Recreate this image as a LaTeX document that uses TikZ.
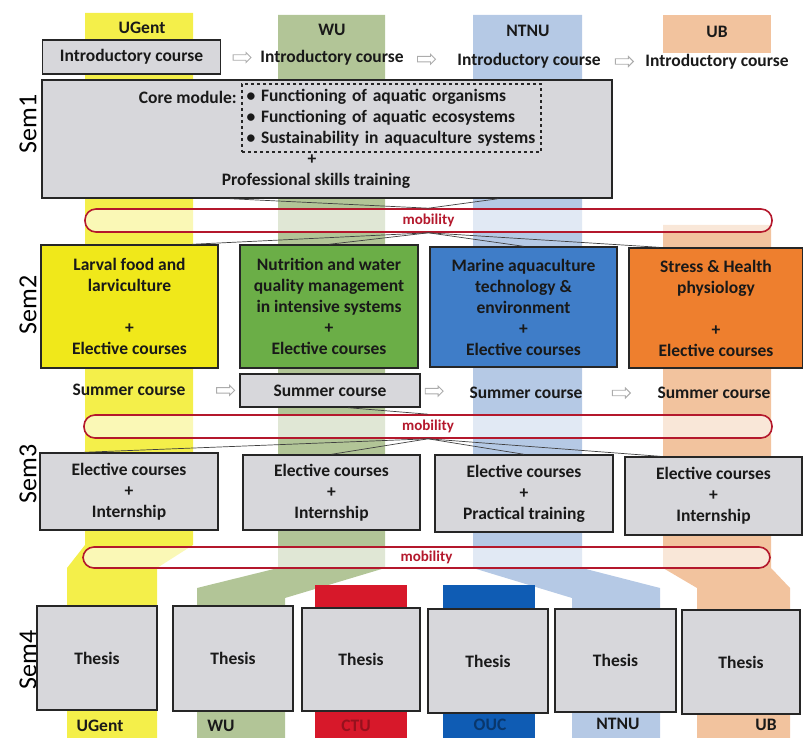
\documentclass[tikz,border=0pt]{standalone}
\usepackage{fontspec}
\setmainfont{Carlito}
\usetikzlibrary{calc,shapes.arrows}
%
\definecolor{ugentc}{HTML}{F4EF4A}
\definecolor{wuc}{HTML}{B2C597}
\definecolor{ntnuc}{HTML}{B5C9E5}
\definecolor{ubc}{HTML}{F2C39E}
\definecolor{ctuc}{HTML}{D7182A}
\definecolor{oucc}{HTML}{0F5CB4}
\definecolor{boxgray}{HTML}{D7D7DB}
\definecolor{specY}{HTML}{F0E81A}
\definecolor{specG}{HTML}{6BAE47}
\definecolor{specB}{HTML}{3F7DC8}
\definecolor{specO}{HTML}{EE7F2E}
\definecolor{mobred}{HTML}{B4182C}
%
\tikzset{
  lbl/.style={font=\fontsize{17.5}{21}\selectfont\bfseries, text=black!90, inner sep=0pt, align=center},
  box/.style={lbl, draw=black!85, line width=1.4pt, fill=boxgray},
  cell/.style 2 args={minimum width=#1, minimum height=#2},
  mob/.style={draw=mobred, line width=1.6pt, fill=white, fill opacity=0.6, text opacity=1,
    rounded corners=11pt, font=\fontsize{15}{18}\selectfont\bfseries, text=mobred, inner sep=0pt},
  harrow/.style={single arrow, draw=gray!65, fill=white, line width=0.9pt, minimum height=18pt,
    inner xsep=0pt, inner ysep=2.3pt, single arrow head extend=2.3pt},
  link/.style={draw=black!75, line width=0.7pt},
  semlbl/.style={font=\fontsize{26}{30}\selectfont, text=black, rotate=90, inner sep=0pt},
}

\begin{document}
\begin{tikzpicture}[x=1pt,y=-1pt]
%
\def\ta{545};
\def\tb{568};
\def\tc{588};
%
\useasboundingbox (0,0) rectangle (803,738);
%
% university bands
\fill[ugentc] (85,13) -- (193,13) -- (193,\ta) -- (157,\tb) -- (157,738) -- (67,738) -- (67,\tb) -- (85,\ta) -- cycle;
\fill[wuc] (278,15) -- (385,15) -- (385,\tb) -- (285,598) -- (285,738) -- (197,738) -- (197,\tc) -- (278,\tb) -- cycle;
\fill[ntnuc] (473,15) -- (582,15) -- (582,\tb) -- (660,\tc) -- (660,738) -- (572,738) -- (572,598) -- (473,\tb) -- cycle;
\fill[ubc] (663,15) rectangle (771,53);
\fill[ubc] (663,225) -- (771,225) -- (771,\tb) -- (790,\tc) -- (790,738) -- (697,738) -- (697,\tc) -- (663,\tb) -- cycle;
\fill[ctuc] (315,585) rectangle (407,738);
\fill[oucc] (443,585) rectangle (535,738);
%
\node[lbl] (hugent) at (142,28) {UGent};
\node[lbl] (hwu) at (332,30) {WU};
\node[lbl] (hntnu) at (528,31) {NTNU};
\node[lbl] (hub) at (717,32) {UB};
%
% semester labels
\node[semlbl] (s1) at (28,124) {Sem1};
\node[semlbl] (s2) at (28,305) {Sem2};
\node[semlbl] (s3) at (28,474) {Sem3};
\node[semlbl] (s4) at (28,660) {Sem4};
%
% semester 1
\node[box, cell={178pt}{34pt}] (intro1) at (131.5,57) {Introductory course};
\node[lbl] (intro2) at (332,58) {Introductory course};
\node[lbl] (intro3) at (529,61) {Introductory course};
\node[lbl] (intro4) at (717,62) {Introductory course};
\path (intro1.east) -- node[harrow]{} (intro2.west);
\path (intro2.east) -- node[harrow, pos=0.4]{} (intro3.west);
\path (intro3.east) -- node[harrow]{} (intro4.west);
%
\node[box, cell={570pt}{118pt}] (core) at (327,139) {};
\node[lbl, anchor=east] (coremod) at (237,97) {Core module:};
\node[lbl, draw=black!85, dashed, line width=1.2pt, cell={299pt}{68pt}, align=left, text width=290pt]
  (topics) at (391.5,118) {\textbullet\ Functioning of aquatic organisms\\
  \textbullet\ Functioning of aquatic ecosystems\\
  \textbullet\ Sustainability in aquaculture systems};
\node[lbl] (plus1) at (312,160) {+};
\node[lbl] (skills) at (316,181) {Professional skills training};
%
% mobility
\node[mob, cell={687pt}{23pt}] (mob1) at (428.5,220.5) {mobility};
\node[mob, cell={688pt}{23pt}] (mob2) at (428,426.5) {mobility};
\node[mob, cell={687pt}{21pt}] (mob3) at (426.5,557.5) {mobility};
%
% semester 2
\node[box, fill=specY, cell={177pt}{123pt}] (spec1) at (129.5,306.5)
  {Larval food and\\larviculture\\[21pt]+\\Elective courses};
\node[box, fill=specG, cell={178pt}{123pt}] (spec2) at (329,306.5)
  {Nutrition and water\\quality management\\in intensive systems\\+\\Elective courses};
\node[box, fill=specB, cell={187pt}{120pt}] (spec3) at (523.5,307)
  {Marine aquaculture\\technology \&\\environment\\+\\Elective courses};
\node[box, fill=specO, cell={174pt}{120pt}] (spec4) at (716,308)
  {Stress \& Health\\physiology\\[21pt]+\\Elective courses};
%
\node[lbl] (summer1) at (129,390) {Summer course};
\node[box, cell={180pt}{33pt}] (summer2) at (330,390.5) {Summer course};
\node[lbl] (summer3) at (526,393) {Summer course};
\node[lbl] (summer4) at (714,393) {Summer course};
\path (summer1.east) -- node[harrow, pos=0.72]{} (summer2.west);
\path (summer2.east) -- node[harrow, pos=0.25]{} (summer3.west);
\path (summer3.east) -- node[harrow]{} (summer4.west);
%
% semester 3
\node[box, cell={178pt}{77pt}] (el1) at (129,491.5) {Elective courses\\+\\Internship};
\node[box, cell={177pt}{75pt}] (el2) at (331.5,492.5) {Elective courses\\+\\Internship};
\node[box, cell={178pt}{77pt}] (el3) at (524,493.5) {Elective courses\\+\\Practical training};
\node[box, cell={177pt}{78pt}] (el4) at (713.5,496) {Elective courses\\+\\Internship};
%
% semester 4
\node[box, cell={120pt}{104pt}] (th1) at (97,658) {Thesis};
\node[box, cell={120pt}{105pt}] (th2) at (233,658.5) {Thesis};
\node[box, cell={118pt}{103pt}] (th3) at (361,659.5) {Thesis};
\node[box, cell={120pt}{104pt}] (th4) at (488,661) {Thesis};
\node[box, cell={121pt}{103pt}] (th5) at (615.5,660.5) {Thesis};
\node[box, cell={118pt}{104pt}] (th6) at (741,662) {Thesis};
%
\node[lbl] (bugent) at (100,726) {UGent};
\node[lbl] (bwu) at (221,726) {WU};
\node[lbl, text=ctuc!70!black] (bctu) at (356,726) {CTU};
\node[lbl, text=oucc!60!black] (bouc) at (490,725) {OUC};
\node[lbl] (bntnu) at (618,724) {NTNU};
\node[lbl] (bub) at (766,725) {UB};
%
% links through mobility
\draw[link] ($(core.south west)!0.33!(core.south east)$) -- (mob1.north);
\draw[link] ($(core.south west)!0.8!(core.south east)$) -- (mob1.north);
\draw[link] (mob1.south) -- ($(spec1.north)!0.7!(spec1.north east)$);
\draw[link] (mob1.south) -- (spec2.north);
\draw[link] (mob1.south) -- (spec3.north);
\draw[link] (mob1.south) -- ($(spec4.north west)!0.35!(spec4.north)$);
%
\draw[link] ($(summer2.south)!0.2!(summer2.south east)$) -- (mob2.north);
\draw[link] (mob2.south) -- ($(el1.north)!0.5!(el1.north west)$);
\draw[link] (mob2.south) -- (el2.north);
\draw[link] (mob2.south) -- (el3.north);
\draw[link] (mob2.south) -- ($(el4.north west)!0.4!(el4.north)$);
%
\end{tikzpicture}
\end{document}
